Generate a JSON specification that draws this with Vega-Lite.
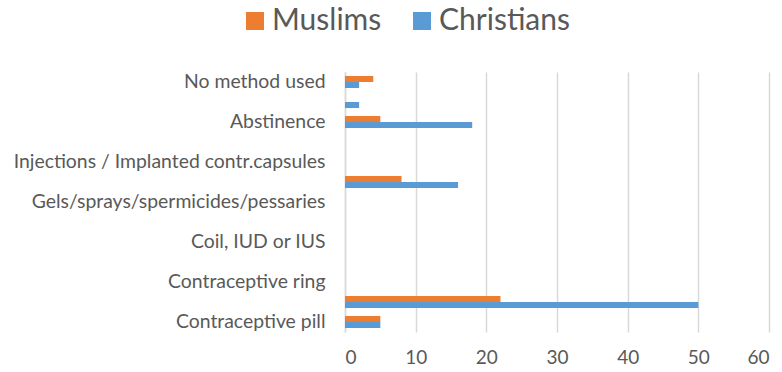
{
  "$schema": "https://vega.github.io/schema/vega-lite/v6.json",
  "width": 424,
  "height": 260,
  "autosize": {"type": "none"},
  "padding": {"left": 345, "top": 72, "right": 13, "bottom": 40},
  "config": {
    "view": {"stroke": null},
    "font": "Lato"
  },
  "data": {
    "values": [
      {"method": "No method used", "group": "Muslims", "value": 4},
      {"method": "No method used", "group": "Christians", "value": 2},
      {"method": "Other", "group": "Christians", "value": 2},
      {"method": "Abstinence", "group": "Muslims", "value": 5},
      {"method": "Abstinence", "group": "Christians", "value": 18},
      {"method": "Withdrawal", "group": "Muslims", "value": 8},
      {"method": "Withdrawal", "group": "Christians", "value": 16},
      {"method": "Condom", "group": "Muslims", "value": 22},
      {"method": "Condom", "group": "Christians", "value": 50},
      {"method": "Contraceptive pill", "group": "Muslims", "value": 5},
      {"method": "Contraceptive pill", "group": "Christians", "value": 5}
    ]
  },
  "mark": {"type": "bar"},
  "encoding": {
    "y": {
      "field": "method",
      "type": "nominal",
      "scale": {
        "domain": [
          "No method used", "Other", "Abstinence", "Sterilisation",
          "Injections / Implanted contr.capsules", "Withdrawal",
          "Gels/sprays/spermicides/pessaries", "Diaphragm or cap",
          "Coil, IUD or IUS", "Contraceptive patch", "Contraceptive ring",
          "Condom", "Contraceptive pill"
        ],
        "paddingInner": 0.4,
        "paddingOuter": 0.2
      },
      "axis": {
        "title": null,
        "values": [
          "No method used", "Abstinence",
          "Injections / Implanted contr.capsules",
          "Gels/sprays/spermicides/pessaries", "Coil, IUD or IUS",
          "Contraceptive ring", "Contraceptive pill"
        ],
        "ticks": false,
        "grid": false,
        "domainColor": "#D9D9D9",
        "domainWidth": 1.5,
        "labelPadding": 20,
        "labelFontSize": 19.4,
        "labelColor": "#595959",
        "labelLimit": 400
      }
    },
    "yOffset": {"field": "group", "sort": ["Muslims", "Christians"]},
    "x": {
      "field": "value",
      "type": "quantitative",
      "scale": {"domain": [0, 60]},
      "axis": {
        "title": null,
        "values": [0, 10, 20, 30, 40, 50, 60],
        "domain": false,
        "ticks": false,
        "gridColor": "#D9D9D9",
        "gridWidth": 1.5,
        "labelPadding": 16,
        "labelFontSize": 19,
        "labelColor": "#595959"
      }
    },
    "color": {
      "field": "group",
      "type": "nominal",
      "scale": {"domain": ["Muslims", "Christians"], "range": ["#ED7D31", "#5B9BD5"]},
      "legend": {
        "title": null,
        "orient": "none",
        "direction": "horizontal",
        "legendX": -105,
        "legendY": -66,
        "symbolType": "square",
        "symbolSize": 324,
        "symbolStrokeWidth": 0,
        "labelFontSize": 30,
        "labelColor": "#595959",
        "columnPadding": 25,
        "labelOffset": 2
      }
    }
  }
}
